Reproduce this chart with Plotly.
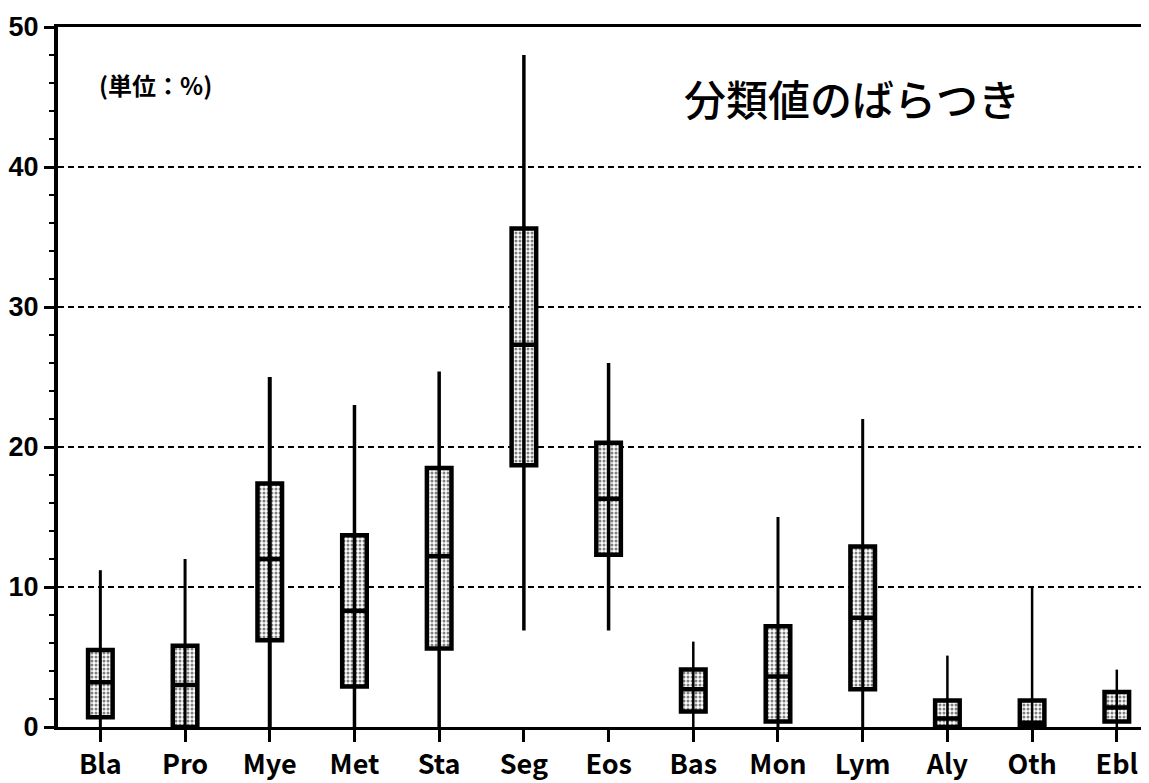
import plotly.graph_objects as go

categories = ["Bla", "Pro", "Mye", "Met", "Sta", "Seg", "Eos", "Bas", "Mon", "Lym", "Aly", "Oth", "Ebl"]
q1_vals = [0.7, 0.0, 6.2, 2.9, 5.6, 18.7, 12.3, 1.1, 0.4, 2.7, 0.0, 0.0, 0.4]
median_vals = [3.2, 3.0, 12.0, 8.3, 12.2, 27.3, 16.3, 2.7, 3.6, 7.8, 0.6, 0.3, 1.4]
q3_vals = [5.5, 5.8, 17.4, 13.7, 18.5, 35.6, 20.3, 4.1, 7.2, 12.9, 1.9, 1.9, 2.5]
low_vals = [0.0, 0.0, 0.0, 0.0, 0.0, 6.9, 6.9, 0.0, 0.0, 0.0, 0.0, 0.0, 0.0]
high_vals = [11.2, 12.0, 25.0, 23.0, 25.4, 48.0, 26.0, 6.1, 15.0, 22.0, 5.1, 10.0, 4.1]
whisker_widths = [3, 3, 4, 3.5, 3.5, 3.5, 3.5, 2.5, 3, 3, 2.5, 2.5, 2.5]
y_ticks = [0, 10, 20, 30, 40, 50]

BOX_W = 0.29

fig = go.Figure()

# whiskers (min to max) drawn beneath the boxes
for i, c in enumerate(categories):
    fig.add_trace(go.Scatter(
        x=[c, c], y=[low_vals[i], high_vals[i]],
        mode="lines", line=dict(color="black", width=whisker_widths[i]),
        showlegend=False, hoverinfo="skip",
    ))

# stippled box bodies
fig.add_trace(go.Bar(
    x=categories,
    y=[b - a for a, b in zip(q1_vals, q3_vals)],
    base=q1_vals,
    width=BOX_W,
    marker=dict(
        color="white",
        line=dict(width=0),
        pattern=dict(shape=".", fgcolor="black", bgcolor="white", size=4, solidity=0.45),
    ),
    showlegend=False,
    hoverinfo="skip",
))

# box outlines and medians
fig.add_trace(go.Box(
    x=categories,
    q1=q1_vals,
    median=median_vals,
    q3=q3_vals,
    lowerfence=q1_vals,
    upperfence=q3_vals,
    width=BOX_W,
    whiskerwidth=0,
    fillcolor="rgba(0,0,0,0)",
    line=dict(color="black", width=4.5),
    boxpoints=False,
    showlegend=False,
))

fig.add_annotation(
    x=0.089, y=0.918, xref="paper", yref="paper", xanchor="center", yanchor="middle",
    text="(単位：%)", showarrow=False,
    font=dict(family="Noto Sans CJK JP", size=24, color="black", weight="bold"),
)
fig.add_annotation(
    x=0.728, y=0.899, xref="paper", yref="paper", xanchor="center", yanchor="middle",
    text="分類値のばらつき", showarrow=False,
    font=dict(family="Noto Sans CJK JP", size=42, color="black", weight=500),
)

fig.update_layout(
    width=1141, height=775,
    margin=dict(l=50, r=0, t=19, b=56),
    paper_bgcolor="white", plot_bgcolor="white",
    showlegend=False,
    bargap=0,
)
fig.update_xaxes(
    type="category",
    range=[-0.5, 12.38],
    automargin=False,
    showline=True, linecolor="black", linewidth=3, mirror=True,
    ticks="outside", ticklen=12, tickwidth=3, tickcolor="black",
    showgrid=False,
    tickfont=dict(family="Noto Sans CJK JP", size=27, color="black", weight="bold"),
)
fig.update_yaxes(
    range=[0, 50],
    tickvals=y_ticks,
    automargin=False,
    showline=True, linecolor="black", linewidth=4,
    ticks="outside", ticklen=10, tickwidth=2.5, tickcolor="black",
    minor=dict(dtick=2, ticks="outside", ticklen=5, tickwidth=2, tickcolor="black", showgrid=False),
    showgrid=True, gridcolor="black", gridwidth=1.5, griddash="6px,4px",
    zeroline=False,
    tickfont=dict(family="Liberation Sans", size=27, color="black", weight="bold"),
)

fig.write_html("out.html")
